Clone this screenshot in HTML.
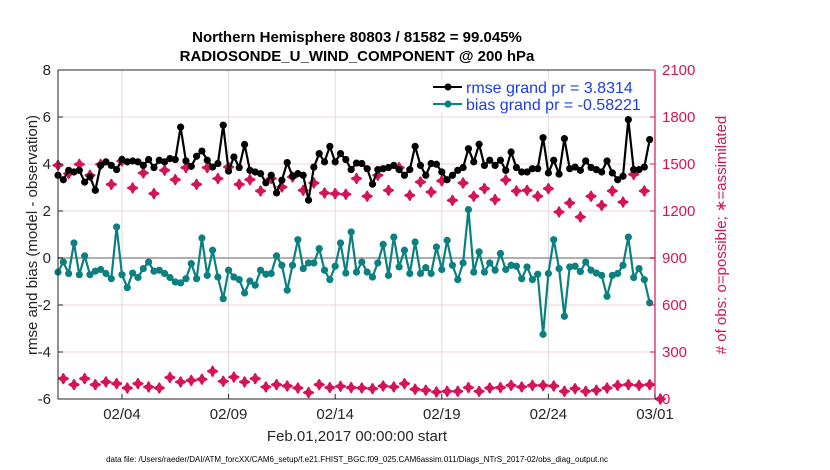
<!DOCTYPE html>
<html><head><meta charset="utf-8"><style>
body{margin:0;background:#fff;}
svg{display:block;font-family:"Liberation Sans",sans-serif;}
</style></head><body>
<svg id="chart" width="830" height="470"></svg>
<script>
const rmse=[3.52,3.33,3.73,3.66,3.73,3.23,3.45,2.88,3.94,4.09,3.94,3.76,4.19,4.09,4.13,4.09,3.94,4.19,3.85,4.16,4.09,4.23,4.19,5.57,4.13,3.90,4.33,4.55,4.16,3.87,4.02,5.65,3.70,4.30,3.85,4.83,3.73,3.66,3.59,3.20,3.52,2.77,3.31,4.06,3.48,3.59,3.52,2.46,3.87,4.44,4.09,4.75,4.09,4.44,4.19,3.76,4.04,4.02,
3.80,3.14,3.76,3.80,3.85,3.94,3.76,3.52,3.76,4.75,3.94,3.52,4.02,3.99,3.66,3.33,3.52,3.73,3.85,4.65,4.09,4.84,3.94,4.16,3.94,4.16,3.73,4.51,3.85,3.66,3.66,3.80,3.80,5.12,3.62,4.16,3.57,5.08,3.80,3.87,3.73,4.13,3.85,3.76,3.66,4.13,3.62,3.33,3.48,5.89,3.76,3.76,3.87,5.04];
const bias=[-0.60,-0.17,-0.66,0.64,-0.71,0.09,-0.71,-0.56,-0.49,-0.66,-0.88,1.32,-0.71,-1.26,-0.64,-0.83,-0.45,-0.17,-0.56,-0.52,-0.66,-0.83,-1.02,-1.06,-0.88,-0.24,-0.88,0.85,-0.74,0.33,-0.81,-1.73,-0.52,-0.81,-0.92,-1.49,-0.98,-1.16,-0.52,-0.69,-0.66,0.09,-0.31,-1.37,-0.31,0.78,-0.45,-0.21,-0.21,0.40,-0.52,-0.92,-0.35,0.64,-0.64,1.11,-0.60,-0.17,
-0.60,-0.81,-0.21,0.58,-0.74,0.89,-0.38,0.33,-0.66,0.68,-0.66,-0.41,-0.66,0.47,-0.49,0.75,-0.31,-0.92,-0.21,2.06,-0.60,0.26,-0.60,-0.21,-0.52,0.19,-0.49,-0.31,-0.35,-0.88,-0.38,-0.92,-0.69,-3.25,-0.66,0.78,-0.45,-2.48,-0.38,-0.35,-0.58,-0.17,-0.52,-0.64,-0.74,-1.63,-0.74,-0.66,-0.31,0.89,-0.83,-0.45,-0.92,-1.91];
const obsUsed=[1492,1439,1498,1428,1498,1370,1519,1347,1443,1311,1460,1400,1477,1370,1477,1407,1481,1370,1400,1328,1407,1353,1417,1332,1379,1315,1311,1307,1407,
1294,1428,1332,1477,1300,1385,1321,1392,1268,1379,1294,1343,1273,1398,1328,1332,1294,1343,1194,1251,1162,1294,1236,1328,1257,1434,1328];
const obsLow=[130,92,130,92,109,98,70,98,77,70,137,109,119,126,177,113,140,109,130,77,92,83,70,41,92,73,81,73,70,
66,83,77,98,62,56,45,49,49,73,49,70,73,87,77,87,87,83,49,66,49,56,70,87,92,87,92,0];
const yTicks=[-6,-4,-2,0,2,4,6,8];
const rTicks=[0,300,600,900,1200,1500,1800,2100];
const dateTicks=["02/04","02/09","02/14","02/19","02/24","03/01"];
const dateTickDays=[3,8,13,18,23,28];

const NS="http://www.w3.org/2000/svg";
const svg=document.getElementById('chart');
const L=58,R=655,T=70,B=399;
const X=d=>L+d*(R-L)/28;
const Y=v=>B-(v+6)*(B-T)/14;
const YR=v=>B-v*(B-T)/2100;
function mk(tag,attrs,parent){const e=document.createElementNS(NS,tag);for(const k in attrs)e.setAttribute(k,attrs[k]);(parent||svg).appendChild(e);return e;}
function txt(s,attrs){const e=mk('text',attrs);e.textContent=s;return e;}

// grid
yTicks.forEach(v=>{const g=mk('line',{x1:L,x2:R,y1:Y(v),y2:Y(v),stroke:'#f0d0dc','stroke-width':1});

});
dateTickDays.forEach(d=>{const g=mk('line',{x1:X(d),x2:X(d),y1:T,y2:B,stroke:'#dcdcdc','stroke-width':1});

});
const zl=mk('line',{x1:L,x2:R,y1:Y(0),y2:Y(0),stroke:'#b0b0b0','stroke-width':2});



// obs markers
function star(x,y,name){const g=mk('path',{d:`M${x-4.5},${y} L${x-1.5},${y-1.5} L${x},${y-4.5} L${x+1.5},${y-1.5} L${x+4.5},${y} L${x+1.5},${y+1.5} L${x},${y+4.5} L${x-1.5},${y+1.5}Z`,fill:'#d61358',stroke:'#d61358','stroke-width':2.2,'stroke-linejoin':'round'});

}
obsUsed.forEach((v,i)=>star(X(i*0.5),YR(v),'obs-assimilated-point'));
obsLow.forEach((v,i)=>star(X(0.25+i*0.5),YR(v),'obs-low-point'));

// series
function series(arr,color,name){
 const pts=arr.map((v,i)=>X(i*0.25).toFixed(1)+','+Y(v).toFixed(1)).join(' ');
 const pl=mk('polyline',{points:pts,fill:'none',stroke:color,'stroke-width':2.2,'stroke-linejoin':'round'});
 
 
 arr.forEach((v,i)=>{const c=mk('circle',{cx:X(i*0.25),cy:Y(v),r:3.6,fill:color});
 
 });
}
series(bias,'#0a8080','bias');
series(rmse,'#000000','rmse');

// axes
const ax=mk('path',{d:`M${L},${T}H${R}M${L},${T}V${B}H${R}`,fill:'none',stroke:'#262626','stroke-width':1});


const ra=mk('line',{x1:R,x2:R,y1:T,y2:B,stroke:'#d61358','stroke-width':1.2});


yTicks.forEach(v=>{mk('line',{x1:L,x2:L+5,y1:Y(v),y2:Y(v),stroke:'#262626'});
 const t=txt(String(v),{x:L-7,y:Y(v)+5,'text-anchor':'end','font-size':15,fill:'#262626'});
 
 });
rTicks.forEach(v=>{mk('line',{x1:R-5,x2:R,y1:YR(v),y2:YR(v),stroke:'#d61358'});
 const t=txt(String(v),{x:R+7,y:YR(v)+5,'font-size':15,fill:'#d61358'});
 
 });
dateTicks.forEach((s,i)=>{const x=X(dateTickDays[i]);mk('line',{x1:x,x2:x,y1:B,y2:B-5,stroke:'#262626'});
 const t=txt(s,{x:x,y:B+20,'text-anchor':'middle','font-size':15,fill:'#262626'});
 
 });
</script>
<svg width="830" height="470" style="position:absolute;left:0;top:0">
<text x="357" y="42" text-anchor="middle" font-size="15" font-weight="bold" font-family="Liberation Sans,sans-serif">Northern Hemisphere 80803 / 81582 = 99.045%</text>
<text x="357" y="61" text-anchor="middle" font-size="15" font-weight="bold" font-family="Liberation Sans,sans-serif">RADIOSONDE_U_WIND_COMPONENT @ 200 hPa</text>
<text transform="translate(37,235) rotate(-90)" text-anchor="middle" font-size="15" fill="#262626" font-family="Liberation Sans,sans-serif">rmse and bias (model - observation)</text>
<text transform="translate(726,235) rotate(-90)" text-anchor="middle" font-size="15" fill="#d61358" font-family="Liberation Sans,sans-serif"># of obs: o=possible; ∗=assimilated</text>
<text x="357" y="441" text-anchor="middle" font-size="15" fill="#262626" font-family="Liberation Sans,sans-serif">Feb.01,2017 00:00:00 start</text>
<text x="357" y="462" text-anchor="middle" font-size="8" fill="#000" font-family="Liberation Sans,sans-serif">data file: /Users/raeder/DAI/ATM_forcXX/CAM6_setup/f.e21.FHIST_BGC.f09_025.CAM6assim.011/Diags_NTrS_2017-02/obs_diag_output.nc</text>
<g font-family="Liberation Sans,sans-serif">
<rect x="428" y="79" width="222" height="33" fill="#fff"/>
<g><line x1="433" y1="87" x2="462" y2="87" stroke="#000" stroke-width="2"/><circle cx="448" cy="87" r="3.5" fill="#000"/><text x="466" y="93" font-size="16" fill="#1a3cf5">rmse grand pr = 3.8314</text></g>
<g><line x1="433" y1="104" x2="462" y2="104" stroke="#0a8080" stroke-width="2"/><circle cx="448" cy="104" r="3.5" fill="#0a8080"/><text x="466" y="110" font-size="16" fill="#1a3cf5">bias grand pr = -0.58221</text></g>
</g>
</svg>
</body></html>
